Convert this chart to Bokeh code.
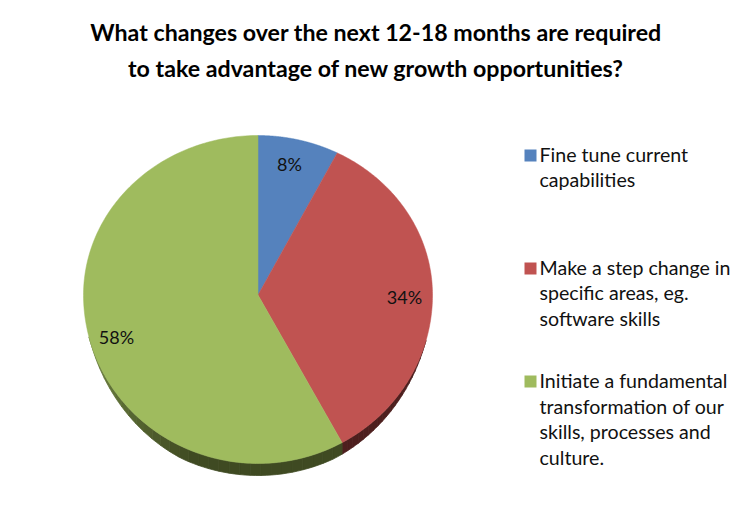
import numpy as np
from bokeh.plotting import figure
from bokeh.models import Range1d
from bokeh.core.properties import value
from bokeh.embed import file_html
from bokeh.resources import INLINE

title_lines = ["What changes over the next 12-18 months are required",
               "to take advantage of new growth opportunities?"]
categories = [["Fine tune current", "capabilities"],
              ["Make a step change in", "specific areas, eg.", "software skills"],
              ["Initiate a fundamental", "transformation of our", "skills, processes and", "culture."]]
shares = [7.5, 34.5, 58.0]
pct_labels = ["8%", "34%", "58%"]
colors = ["#5582BD", "#C05351", "#9FBB5E"]
side_colors = ["#2C4263", "#4D1F1E", "#3F4A22"]
side_light = ["#2C4263", "#4D1F1E", "#6F8442"]

W, H = 736, 515
cx, cy = 257.5, 294.5
rx, ry_top, ry_bot, depth = 174.5, 159.5, 168.5, 12
FONT = "Lato"

p = figure(width=W, height=H, output_backend="svg", toolbar_location=None,
           x_range=Range1d(0, W), y_range=Range1d(H, 0), min_border=0)
p.axis.visible = False
p.grid.visible = False
p.outline_line_color = None
p.background_fill_color = "white"
p.border_fill_color = "white"

def arc(a0, a1, n=200):
    t = np.radians(np.linspace(a0, a1, n))
    ry = np.where(np.cos(t) >= 0, ry_top, ry_bot)
    return t, cx + rx * np.sin(t), cy - ry * np.cos(t)

def mix(c0, c1, f):
    a = [int(c0[i:i + 2], 16) for i in (1, 3, 5)]
    b = [int(c1[i:i + 2], 16) for i in (1, 3, 5)]
    return "#%02x%02x%02x" % tuple(int(round(u + (v - u) * f)) for u, v in zip(a, b))

edges = np.concatenate([[0], np.cumsum(shares)]) / sum(shares) * 360
for i in range(3):
    t, x, y = arc(edges[i], edges[i + 1], 121)
    d = depth * np.clip((-np.cos(t) - 0.3) / 0.6, 0, 1)
    for j in range(0, 120, 2):
        k = j + 3
        a = np.degrees(t[j])
        f = np.clip((a - 200) / 50, 0, 1)
        c = mix(side_colors[i], side_light[i], f)
        if d[j:k].max() > 0:
            p.patch(np.r_[x[j:k], x[j:k][::-1]], np.r_[y[j:k], (y + d)[j:k][::-1]],
                    fill_color=c, line_color=c, line_width=0.8)
for i in range(3):
    _, x, y = arc(edges[i], edges[i + 1])
    p.patch(np.r_[cx, x], np.r_[cy, y], fill_color=colors[i], line_color=colors[i], line_width=0.5)

label_xy = [(289, 163), (404, 296), (116, 336)]
for (lx, ly), t in zip(label_xy, pct_labels):
    p.text([lx], [ly], text=[t], text_font=value(FONT), text_font_size="18px", text_color="#111111",
           text_align="center", text_baseline="middle")

for t, base in zip(title_lines, [31, 67]):
    p.text([375.5], [base], text=[t], text_font=value(FONT), text_font_style="bold",
           text_font_size="23.2px", text_color="#000000", text_align="center", text_baseline="alphabetic")

legend_base = [[154, 179], [267, 292, 318], [380, 406, 431, 457]]
swatch_top = [149, 262, 375]
for i, lines in enumerate(categories):
    p.quad(left=[524], right=[536], top=[swatch_top[i]], bottom=[swatch_top[i] + 12],
           fill_color=colors[i], line_color=None)
    for t, b in zip(lines, legend_base[i]):
        p.text([539], [b], text=[t], text_font=value(FONT), text_font_size="19.6px",
               text_color="#111111", text_align="left", text_baseline="alphabetic")

open("out.html", "w").write(file_html(p, INLINE))
